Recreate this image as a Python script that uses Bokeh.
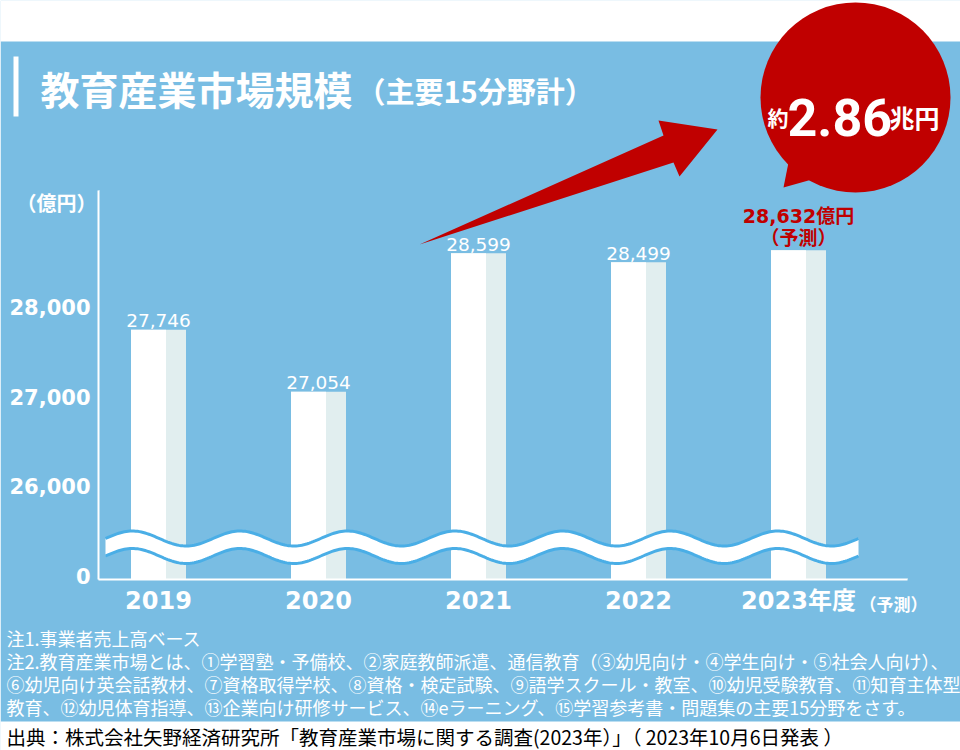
import numpy as np
from bokeh.plotting import figure
from bokeh.models import Range1d, FixedTicker
from bokeh.core.properties import value
from bokeh.embed import file_html
from bokeh.resources import INLINE

# ---------------- data ----------------
fiscal_years = ["2019", "2020", "2021", "2022", "2023"]
year_labels = ["2019", "2020", "2021", "2022", "2023年度"]
market_size = [27746, 27054, 28599, 28499, 28632]          # 億円
value_labels = ["27,746", "27,054", "28,599", "28,499", "28,632億円"]
is_forecast = [False, False, False, False, True]
y_ticks = [25000, 26000, 27000, 28000]                      # 25000 stands for the broken-axis "0"
y_tick_labels = ["0", "26,000", "27,000", "28,000"]

title_main = "教育産業市場規模"
title_sub = "（主要15分野計）"
unit_label = "（億円）"
forecast_mark = "（予測）"
total_prefix = "約"
total_value = "2.86"
total_unit = "兆円"
notes = [
    "注1.事業者売上高ベース",
    "注2.教育産業市場とは、①学習塾・予備校、②家庭教師派遣、通信教育（③幼児向け・④学生向け・⑤社会人向け）、",
    "⑥幼児向け英会話教材、⑦資格取得学校、⑧資格・検定試験、⑨語学スクール・教室、⑩幼児受験教育、⑪知育主体型",
    "教育、⑫幼児体育指導、⑬企業向け研修サービス、⑭eラーニング、⑮学習参考書・問題集の主要15分野をさす。",
]
source_text = "出典：株式会社矢野経済研究所「教育産業市場に関する調査(2023年）」（ 2023年10月6日発表 ）"

# ---------------- style ----------------
BLUE = "#79bde3"
RED = "#c00000"
WAVE = "#4aaee6"
WHITE = "#ffffff"
SHADE = "#e1eeef"
JP = "Noto Sans CJK JP"
NUM = "'DejaVu Sans', 'Noto Sans CJK JP'"

W, H = 960, 750
L, R, T, B = 98, 53, 190, 171
FRAME_W = W - L - R
STEP = 160.0  # px between category centres

p = figure(width=W, height=H, output_backend="svg", toolbar_location=None,
           x_range=Range1d(-60 / STEP, -60 / STEP + FRAME_W / STEP),
           y_range=Range1d(24960, 29300),
           min_border_left=L, min_border_right=R, min_border_top=T, min_border_bottom=B)
p.extra_x_ranges = {"px": Range1d(L, W - R)}
p.extra_y_ranges = {"py": Range1d(H - B, T)}
p.background_fill_color = BLUE
p.border_fill_color = BLUE
p.outline_line_color = None
p.grid.visible = False

# axes
for ax in (p.xaxis[0], p.yaxis[0]):
    ax.axis_line_color = WHITE
    ax.axis_line_width = 2
    ax.major_tick_line_color = None
    ax.minor_tick_line_color = None
    ax.major_tick_out = 0
    ax.major_tick_in = 0
    ax.major_label_text_color = WHITE
    ax.major_label_text_font = NUM
    ax.major_label_text_font_style = "bold"

idx = list(range(len(fiscal_years)))
p.xaxis.ticker = FixedTicker(ticks=idx)
p.xaxis.major_label_overrides = {i: lab for i, lab in zip(idx, year_labels)}
p.xaxis.major_label_text_font_size = "24px"
p.xaxis.major_label_standoff = 7

p.yaxis.ticker = FixedTicker(ticks=y_ticks)
p.yaxis.major_label_overrides = {t: lab for t, lab in zip(y_ticks, y_tick_labels)}
p.yaxis.major_label_text_font_size = "21px"
p.yaxis.major_label_standoff = 8

# bars (two-tone)
base = 24000
p.vbar(x=idx, top=market_size, bottom=base, width=55 / STEP, fill_color=SHADE, line_color=None)
p.vbar(x=[i - 10 / STEP for i in idx], top=market_size, bottom=base, width=35 / STEP,
       fill_color=WHITE, line_color=None)

# value labels
nx = [i for i, f in zip(idx, is_forecast) if not f]
ny = [v for v, f in zip(market_size, is_forecast) if not f]
nl = [s for s, f in zip(value_labels, is_forecast) if not f]
p.text(x=nx, y=ny, text=nl, text_color=WHITE, text_font=value("DejaVu Sans"),
       text_font_size="18.5px", text_align="center", text_baseline="alphabetic", y_offset=-9)
fx = [i for i, f in zip(idx, is_forecast) if f]
fy = [v for v, f in zip(market_size, is_forecast) if f]
fl = [s for s, f in zip(value_labels, is_forecast) if f]
p.text(x=fx, y=fy, text=fl, text_color=RED, text_font=value(NUM), text_font_style="bold",
       text_font_size="19px", text_align="center", text_baseline="middle", y_offset=-34)
p.text(x=fx, y=fy, text=[forecast_mark] * len(fx), text_color=RED, text_font=value(JP),
       text_font_style="bold", text_font_size="19px", text_align="center",
       text_baseline="middle", y_offset=-14)

# wavy break band (decoration)
wx = np.linspace(105, 858, 400)
lam = (858 - 105) / 7.0
top_wave = 538 - 7.5 * np.sin(2 * np.pi * (wx - 105) / lam)
bot_wave = top_wave + 17.5
p.patch(np.concatenate([wx, wx[::-1]]), np.concatenate([top_wave, bot_wave[::-1]]),
        fill_color=WHITE, line_color=None, x_range_name="px", y_range_name="py")
p.line(wx, top_wave, line_color=WAVE, line_width=3, x_range_name="px", y_range_name="py")
p.line(wx, bot_wave, line_color=WAVE, line_width=3, x_range_name="px", y_range_name="py")

# ---- decorations outside the frame (overlay level, pixel coordinates) ----
ov = dict(x_range_name="px", y_range_name="py", level="overlay")
# hide anti-aliasing seams between frame and border fills
p.quad(left=[99.5], right=[910], top=[188.5], bottom=[191.5], fill_color=BLUE, line_color=None, **ov)
p.quad(left=[905.5], right=[908.5], top=[188.5], bottom=[577.5], fill_color=BLUE, line_color=None, **ov)

p.quad(left=[0], right=[W], top=[0], bottom=[41], fill_color=WHITE, line_color=None, **ov)
p.quad(left=[0], right=[W], top=[721], bottom=[H], fill_color=WHITE, line_color=None, **ov)
p.quad(left=[13], right=[18], top=[56], bottom=[116], fill_color=WHITE, line_color=None, **ov)

p.text(x=[40], y=[87], text=[title_main], text_color=WHITE, text_font=value(JP),
       text_font_style="bold", text_font_size="39px", text_baseline="middle", **ov)
p.text(x=[356], y=[89], text=[title_sub], text_color=WHITE, text_font=value(JP),
       text_font_style="bold", text_font_size="29px", text_baseline="middle", **ov)

# red arrow
p.patch([419, 663, 658, 717, 679, 673], [244, 135, 120, 129, 176, 162],
        fill_color=RED, line_color=None, **ov)
# speech bubble
p.patch([783, 789, 815], [187, 157, 178], fill_color=RED, line_color=None, **ov)
p.scatter([855], [97], size=190, marker="circle", fill_color=RED, line_color=None, **ov)
p.text(x=[767], y=[116], text=[total_prefix], text_color=WHITE, text_font=value(JP),
       text_font_style="bold", text_font_size="21px", text_baseline="alphabetic", **ov)
p.text(x=[787], y=[117], text=[total_value], text_color=WHITE, text_font=value("Roboto"),
       text_font_style="bold", text_font_size="52px", text_baseline="alphabetic", **ov)
p.text(x=[889], y=[116], text=[total_unit], text_color=WHITE, text_font=value(JP),
       text_font_style="bold", text_font_size="25px", text_baseline="alphabetic", **ov)

# unit label and forecast mark next to the last category
p.text(x=[56], y=[202], text=[unit_label], text_color=WHITE, text_font=value(JP),
       text_font_style="bold", text_font_size="20px", text_align="center",
       text_baseline="middle", **ov)
p.text(x=[859], y=[603], text=[forecast_mark], text_color=WHITE, text_font=value(JP),
       text_font_style="bold", text_font_size="17px", text_baseline="middle", **ov)

# notes and source
p.text(x=[6] * len(notes), y=[637 + 23.3 * k for k in range(len(notes))], text=notes,
       text_color=WHITE, text_font=value(JP), text_font_size="18px",
       text_baseline="middle", **ov)
p.text(x=[6], y=[736], text=[source_text], text_color="#000000", text_font=value(JP),
       text_font_size="19.5px", text_baseline="middle", **ov)

open("out.html", "w").write(file_html(p, INLINE))
